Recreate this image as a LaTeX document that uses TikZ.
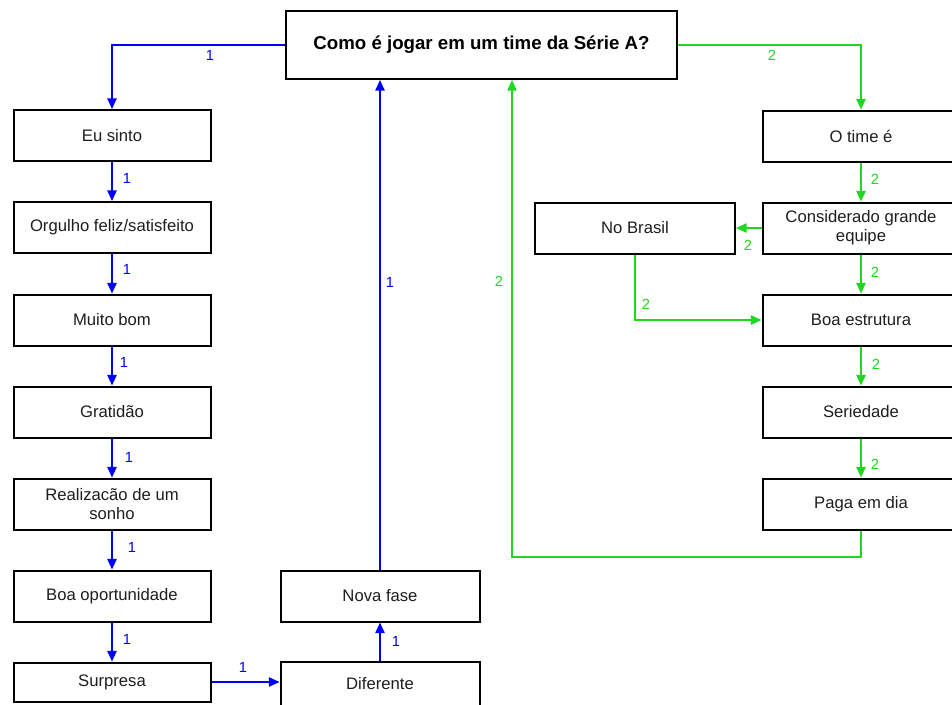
\documentclass[tikz,border=0pt]{standalone}
\usepackage{fontspec}
\setmainfont{Liberation Sans}
\usetikzlibrary{arrows.meta}
\definecolor{flowblue}{RGB}{0,0,255}
\definecolor{flowgreen}{RGB}{30,215,30}
\definecolor{boxtext}{RGB}{30,30,30}
\begin{document}
\begin{tikzpicture}[x=0.75pt,y=-0.75pt,
  box/.style={draw=black,line width=1.5pt,fill=white,rectangle,
    minimum width=147.75pt,minimum height=38.25pt,inner sep=2pt,
    align=center,text=boxtext,font=\fontsize{12.5}{14.5}\selectfont},
  titlebox/.style={box,minimum width=293.25pt,minimum height=51pt,text=black,
    font=\fontsize{14}{16}\selectfont\bfseries},
  link/.style={line width=1.3pt,-{Triangle[length=8pt,width=7pt]}},
  bl/.style={color=flowblue},
  gr/.style={color=flowgreen},
  lbl/.style={font=\fontsize{11}{12}\selectfont,inner sep=0pt}]
\useasboundingbox (0,0) rectangle (952,704);
\clip (0,0) rectangle (952,704);

% question at the top
\node[titlebox] (top) at (481.5,45) {Como é jogar em um time da Série A?};

% left column: feelings
\node[box] (eu)   at (112,135.5) {Eu sinto};
\node[box] (org)  at (112,227.5) {Orgulho feliz/satisfeito};
\node[box] (mb)   at (112,320)   {Muito bom};
\node[box] (grat) at (112,412)   {Gratidão};
\node[box] (real) at (112,504)   {Realizacão de um\\sonho};
\node[box] (boa)  at (112,596)   {Boa oportunidade};
\node[box,minimum height=29.25pt] (surp) at (112,682) {Surpresa};

% middle column
\node[box,minimum width=149.25pt] (nova) at (380,596) {Nova fase};
\node[box,minimum width=149.25pt,minimum height=33pt] (dif) at (380,684) {Diferente};

% right column: the club
\node[box] (otime) at (861,136)   {O time é};
\node[box] (cons)  at (861,228)   {Considerado grande\\equipe};
\node[box,minimum width=150pt] (nobr) at (635,228) {No Brasil};
\node[box] (est)   at (861,320)   {Boa estrutura};
\node[box] (ser)   at (861,412)   {Seriedade};
\node[box] (paga)  at (861,504)   {Paga em dia};

% path 1 (blue)
\draw[link,bl] (top.west) -| (eu.north);
\draw[link,bl] (eu.south) -- (org.north);
\draw[link,bl] (org.south) -- (mb.north);
\draw[link,bl] (mb.south) -- (grat.north);
\draw[link,bl] (grat.south) -- (real.north);
\draw[link,bl] (real.south) -- (boa.north);
\draw[link,bl] (boa.south) -- (surp.north);
\draw[link,bl] (surp.east) -- (dif.west |- surp.east);
\draw[link,bl] (dif.north) -- (nova.south);
\draw[link,bl] (nova.north) -- (top.south -| nova.north);

\node[lbl,text=flowblue] at (210,55)  {1};
\node[lbl,text=flowblue] at (127,178) {1};
\node[lbl,text=flowblue] at (127,269) {1};
\node[lbl,text=flowblue] at (124,362) {1};
\node[lbl,text=flowblue] at (129,457) {1};
\node[lbl,text=flowblue] at (132,547) {1};
\node[lbl,text=flowblue] at (127,639) {1};
\node[lbl,text=flowblue] at (243,667) {1};
\node[lbl,text=flowblue] at (396,641) {1};
\node[lbl,text=flowblue] at (390,282) {1};

% path 2 (green)
\coordinate (ret) at (512,557);
\draw[link,gr] (top.east) -| (otime.north);
\draw[link,gr] (otime.south) -- (cons.north);
\draw[link,gr] (cons.west) -- (nobr.east);
\draw[link,gr] (cons.south) -- (est.north);
\draw[link,gr] (nobr.south) |- (est.west);
\draw[link,gr] (est.south) -- (ser.north);
\draw[link,gr] (ser.south) -- (paga.north);
\draw[link,gr] (paga.south) |- (ret) -- (top.south -| ret);

\node[lbl,text=flowgreen] at (772,55)  {2};
\node[lbl,text=flowgreen] at (875,179) {2};
\node[lbl,text=flowgreen] at (748,245) {2};
\node[lbl,text=flowgreen] at (875,272) {2};
\node[lbl,text=flowgreen] at (646,304) {2};
\node[lbl,text=flowgreen] at (876,364) {2};
\node[lbl,text=flowgreen] at (875,464) {2};
\node[lbl,text=flowgreen] at (499,281) {2};
\end{tikzpicture}
\end{document}
